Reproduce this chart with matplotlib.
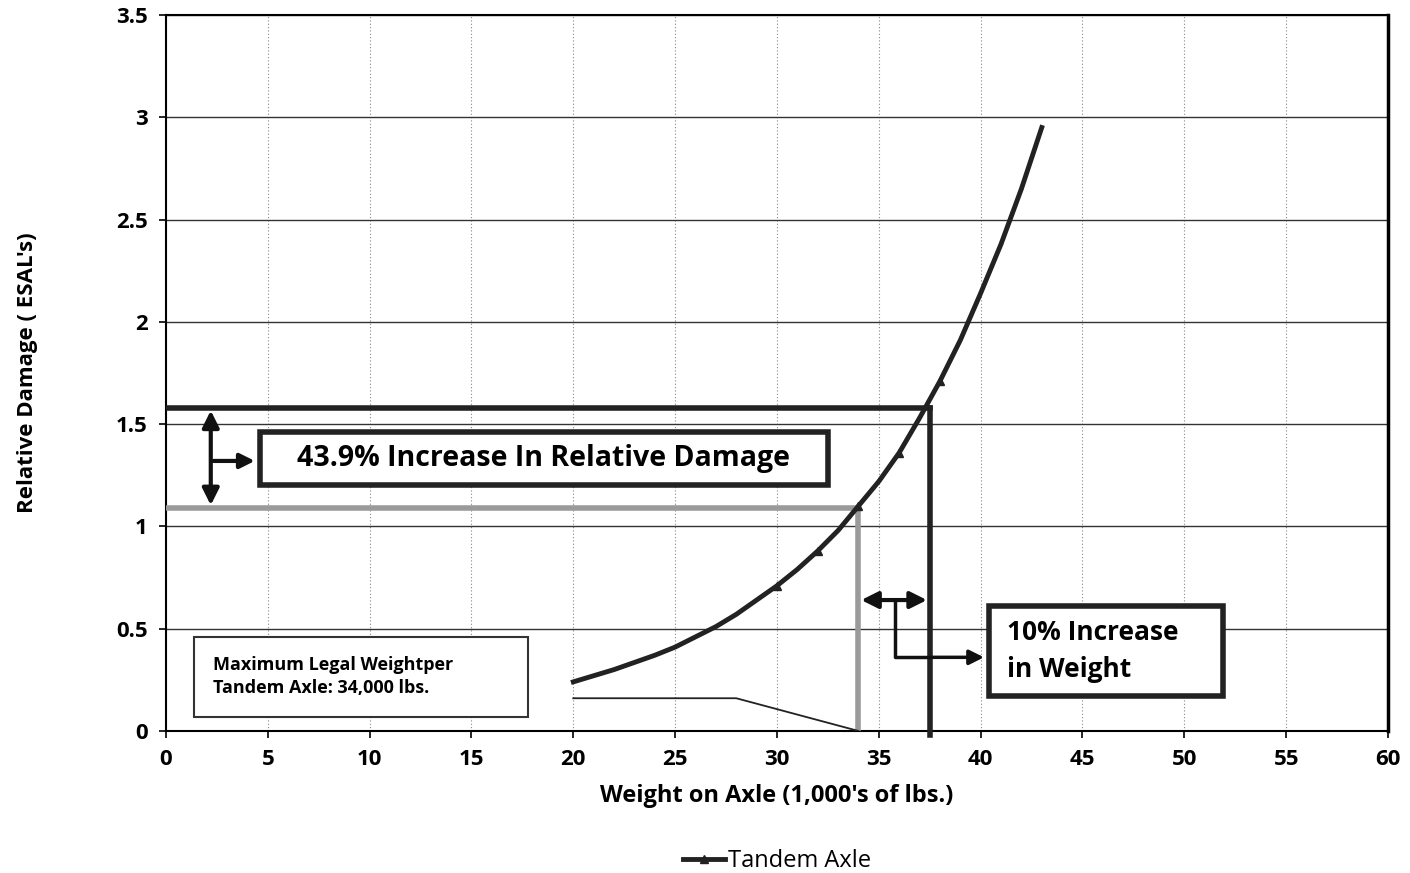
import matplotlib.pyplot as plt
from matplotlib.patches import FancyArrowPatch, Rectangle

plt.rcParams['font.family'] = ['Open Sans', 'DejaVu Sans']

# Tandem axle relative damage curve
peso = [20, 21, 22, 23, 24, 25, 26, 27, 28, 29, 30, 31, 32, 33, 34, 35, 36, 37, 38,
        39, 40, 41, 42, 43]
esal = [0.24, 0.27, 0.30, 0.335, 0.37, 0.41, 0.46, 0.51, 0.57, 0.64, 0.71, 0.79, 0.88,
        0.98, 1.10, 1.22, 1.36, 1.53, 1.71, 1.91, 2.14, 2.38, 2.65, 2.95]
marcas = [10, 12, 14, 16, 18]

# annotation values
peso_legal = 34
peso_mais10 = 37.5
dano_legal = 1.09
dano_mais10 = 1.58
linha_fina_x = [20, 28, 34]
linha_fina_y = [0.16, 0.16, 0.0]

x_ticks = list(range(0, 61, 5))
y_ticks = [0, 0.5, 1, 1.5, 2, 2.5, 3, 3.5]
y_labels = ['0', '0.5', '1', '1.5', '2', '2.5', '3', '3.5']

fig = plt.figure(figsize=(14.1, 8.73), dpi=100)
ax = fig.add_axes([0.1177, 0.1627, 0.8667, 0.8201])

ax.set_xlim(0, 60)
ax.set_ylim(0, 3.5)
ax.set_xticks(x_ticks)
ax.set_yticks(y_ticks)
ax.set_yticklabels(y_labels)
ax.tick_params(axis='both', labelsize=16, direction='out', length=5, width=1.2, pad=8)
for lbl in ax.get_xticklabels() + ax.get_yticklabels():
    lbl.set_fontweight('bold')

ax.grid(axis='y', color='#333333', linewidth=1.0)
ax.grid(axis='x', color='#888888', linewidth=0.8, linestyle=(0, (1, 2)))
ax.set_axisbelow(True)
for s in ax.spines.values():
    s.set_linewidth(1.5)
ax.spines['right'].set_linewidth(2.5)

# curve
ax.plot(peso, esal, color='#222222', linewidth=3.5, marker='^', markersize=6,
        markevery=marcas, label='Tandem Axle', zorder=4)

# lines for 34k and +10%
ax.plot([0, peso_mais10], [dano_mais10, dano_mais10], color='#222222', linewidth=4, zorder=3)
ax.plot([peso_mais10, peso_mais10], [dano_mais10, -0.02], color='#222222', linewidth=4,
        zorder=3, clip_on=False)
ax.plot([0, peso_legal], [dano_legal, dano_legal], color='#9a9a9a', linewidth=4, zorder=3)
ax.plot([peso_legal, peso_legal], [dano_legal, 0], color='#9a9a9a', linewidth=4, zorder=3)
ax.plot(linha_fina_x, linha_fina_y, color='#222222', linewidth=1.3, zorder=3)

# damage arrow
ax.add_patch(FancyArrowPatch((2.2, dano_legal), (2.2, dano_mais10), arrowstyle='<|-|>',
                             mutation_scale=25, color='#111111', linewidth=3, zorder=5))
ax.add_patch(FancyArrowPatch((2.2, 1.32), (4.5, 1.32), arrowstyle='-|>',
                             mutation_scale=22, color='#111111', linewidth=3, zorder=5))
ax.add_patch(Rectangle((4.6, 1.20), 27.9, 0.26, facecolor='white', edgecolor='#222222',
                       linewidth=4, zorder=6))
ax.text(18.55, 1.33, '43.9% Increase In Relative Damage', fontsize=20.5, fontweight='bold',
        ha='center', va='center', zorder=7)

# weight arrow
ax.add_patch(FancyArrowPatch((peso_legal, 0.64), (peso_mais10, 0.64), arrowstyle='<|-|>',
                             mutation_scale=25, color='#111111', linewidth=3, zorder=5))
ax.plot([35.8, 35.8, 37.5], [0.64, 0.36, 0.36], color='#111111', linewidth=2.5, zorder=5)
ax.add_patch(FancyArrowPatch((37.5, 0.36), (40.3, 0.36), arrowstyle='-|>',
                             mutation_scale=22, color='#111111', linewidth=2.5, zorder=5))
ax.add_patch(Rectangle((40.4, 0.17), 11.5, 0.44, facecolor='white', edgecolor='#222222',
                       linewidth=4, zorder=6))
ax.text(41.3, 0.39, '10% Increase\nin Weight', fontsize=19, fontweight='bold',
        ha='left', va='center', linespacing=1.45, zorder=7)

# legal weight box
ax.add_patch(Rectangle((1.4, 0.07), 16.4, 0.39, facecolor='white', edgecolor='#333333',
                       linewidth=1.5, zorder=6))
ax.text(2.3, 0.265, 'Maximum Legal Weightper\nTandem Axle: 34,000 lbs.', fontsize=13,
        fontweight='bold', ha='left', va='center', linespacing=1.35, zorder=7)

ax.set_xlabel("Weight on Axle (1,000's of lbs.)", fontsize=17, fontweight='bold', labelpad=10)
ax.set_ylabel("Relative Damage ( ESAL's)", fontsize=16, fontweight='bold', labelpad=56)

ax.legend(loc='upper center', bbox_to_anchor=(0.5, -0.135), frameon=False, fontsize=17,
          handlelength=1.8, handletextpad=0.1)

fig.savefig('out.png', dpi=100)
